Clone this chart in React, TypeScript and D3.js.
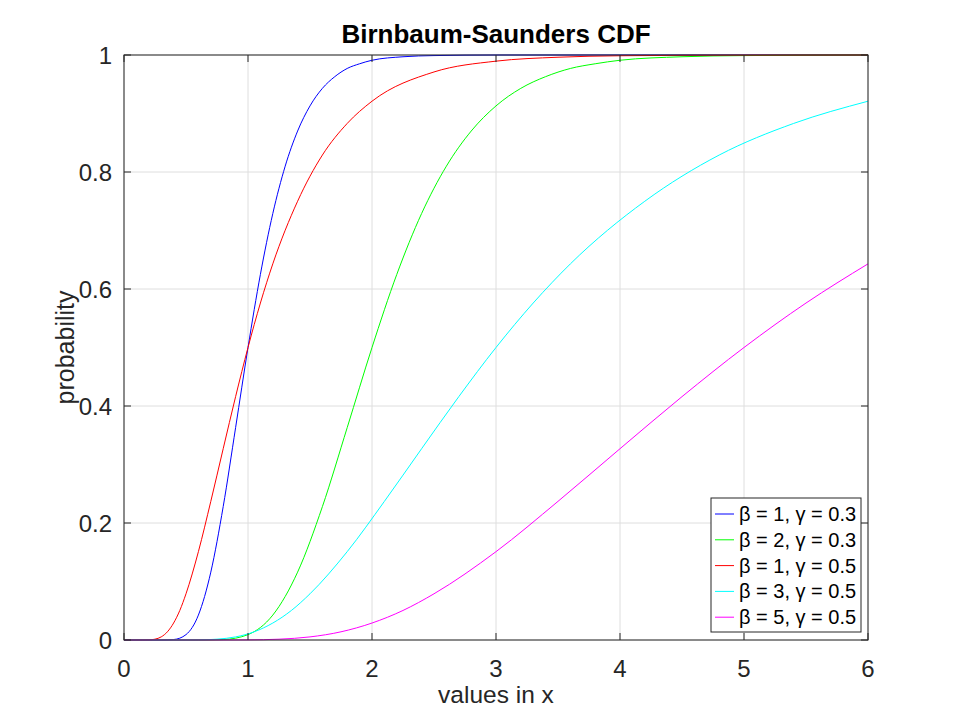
import React, { useEffect, useRef } from 'react';
import * as d3 from 'd3';

// values (x, probability)
const bs1g03: [number, number][] = [
  [0, 0], [0.3, 0], [0.4, 0.0008], [0.5, 0.0092], [0.6, 0.0426], [0.7, 0.116], [0.8, 0.228],
  [0.9, 0.363], [1, 0.5], [1.1, 0.625], [1.2, 0.729], [1.3, 0.81], [1.4, 0.87], [1.5, 0.913],
  [1.6, 0.943], [1.7, 0.963], [1.8, 0.977], [1.9, 0.985], [2, 0.991], [2.25, 0.997],
  [2.5, 0.999], [3, 1], [6, 1]
];
const bs2g03: [number, number][] = [
  [0, 0], [0.6, 0], [0.8, 0.0008], [1, 0.0092], [1.2, 0.0426], [1.4, 0.116], [1.6, 0.228],
  [1.8, 0.363], [2, 0.5], [2.2, 0.625], [2.4, 0.729], [2.6, 0.81], [2.8, 0.87], [3, 0.913],
  [3.2, 0.943], [3.4, 0.963], [3.6, 0.977], [3.8, 0.985], [4, 0.991], [4.5, 0.997],
  [5, 0.999], [6, 1]
];
const bs1g05: [number, number][] = [
  [0, 0], [0.15, 0], [0.2, 0.0002], [0.25, 0.0014], [0.3, 0.0053], [0.35, 0.014], [0.4, 0.029],
  [0.45, 0.0505], [0.5, 0.079], [0.6, 0.151], [0.7, 0.237], [0.8, 0.327], [0.9, 0.416],
  [1, 0.5], [1.1, 0.576], [1.2, 0.643], [1.4, 0.75], [1.6, 0.829], [1.8, 0.883], [2, 0.921],
  [2.5, 0.971], [3, 0.9895], [3.5, 0.9962], [4, 0.9987], [5, 0.9998], [6, 1]
];
const bs3g05: [number, number][] = [
  [0, 0], [0.45, 0], [0.6, 0.0002], [0.75, 0.0014], [0.9, 0.0053], [1.05, 0.014], [1.2, 0.029],
  [1.35, 0.0505], [1.5, 0.079], [1.8, 0.151], [2.1, 0.237], [2.4, 0.327], [2.7, 0.416],
  [3, 0.5], [3.3, 0.576], [3.6, 0.643], [4.2, 0.75], [4.8, 0.829], [5.4, 0.883], [6, 0.921]
];
const bs5g05: [number, number][] = [
  [0, 0], [0.75, 0], [1, 0.0002], [1.25, 0.0014], [1.5, 0.0053], [1.75, 0.014], [2, 0.029],
  [2.25, 0.0505], [2.5, 0.079], [3, 0.151], [3.5, 0.237], [4, 0.327], [4.5, 0.416],
  [5, 0.5], [5.5, 0.576], [6, 0.643]
];

const seriesData = [bs1g03, bs2g03, bs1g05, bs3g05, bs5g05];
const seriesLabels = ['β = 1, γ = 0.3', 'β = 2, γ = 0.3', 'β = 1, γ = 0.5', 'β = 3, γ = 0.5', 'β = 5, γ = 0.5'];
const seriesColors = ['#0000ff', '#00ff00', '#ff0000', '#00ffff', '#ff00ff'];
const xTicks = [0, 1, 2, 3, 4, 5, 6];
const yTicks = [0, 0.2, 0.4, 0.6, 0.8, 1];

const App: React.FC = () => {
  const svgRef = useRef<SVGSVGElement>(null);
  const width = 960;
  const height = 720;

  useEffect(() => {
    if (!svgRef.current) return;
    const svg = d3.select(svgRef.current);
    svg.selectAll('*').remove();

    const margin = { top: 55, right: 92, bottom: 80, left: 124 };
    const innerWidth = width - margin.left - margin.right;
    const innerHeight = height - margin.top - margin.bottom;
    const font = '"Liberation Sans", Arial, sans-serif';
    const ink = '#262626';

    const x = d3.scaleLinear().domain([0, 6]).range([0, innerWidth]);
    const y = d3.scaleLinear().domain([0, 1]).range([innerHeight, 0]);

    svg.append('rect').attr('width', width).attr('height', height).attr('fill', '#fff');

    const g = svg.append('g').attr('transform', `translate(${margin.left},${margin.top})`);

    // grid
    g.selectAll('.gx').data(xTicks).enter().append('line')
      .attr('x1', d => x(d)).attr('x2', d => x(d))
      .attr('y1', 0).attr('y2', innerHeight)
      .attr('stroke', '#dedede').attr('stroke-width', 1);
    g.selectAll('.gy').data(yTicks).enter().append('line')
      .attr('x1', 0).attr('x2', innerWidth)
      .attr('y1', d => y(d)).attr('y2', d => y(d))
      .attr('stroke', '#dedede').attr('stroke-width', 1);

    // curves
    const line = d3.line<[number, number]>()
      .x(d => x(d[0]))
      .y(d => y(d[1]))
      .curve(d3.curveMonotoneX);

    seriesData.forEach((s, i) => {
      g.append('path')
        .attr('d', line(s) as string)
        .attr('fill', 'none')
        .attr('stroke', seriesColors[i])
        .attr('stroke-width', 1);
    });

    // box
    g.append('rect')
      .attr('width', innerWidth).attr('height', innerHeight)
      .attr('fill', 'none').attr('stroke', ink).attr('stroke-width', 1);

    // inward ticks on all sides
    const tl = 7;
    xTicks.forEach(t => {
      g.append('line').attr('x1', x(t)).attr('x2', x(t)).attr('y1', innerHeight).attr('y2', innerHeight - tl).attr('stroke', ink);
      g.append('line').attr('x1', x(t)).attr('x2', x(t)).attr('y1', 0).attr('y2', tl).attr('stroke', ink);
    });
    yTicks.forEach(t => {
      g.append('line').attr('x1', 0).attr('x2', tl).attr('y1', y(t)).attr('y2', y(t)).attr('stroke', ink);
      g.append('line').attr('x1', innerWidth).attr('x2', innerWidth - tl).attr('y1', y(t)).attr('y2', y(t)).attr('stroke', ink);
    });

    // tick labels
    g.selectAll('.xl').data(xTicks).enter().append('text')
      .attr('x', d => x(d)).attr('y', innerHeight + 37)
      .attr('text-anchor', 'middle')
      .attr('font-family', font).attr('font-size', 24).attr('fill', ink)
      .text(d => d3.format('')(d));
    g.selectAll('.yl').data(yTicks).enter().append('text')
      .attr('x', -12).attr('y', d => y(d) + 8.5)
      .attr('text-anchor', 'end')
      .attr('font-family', font).attr('font-size', 24).attr('fill', ink)
      .text(d => d3.format('')(d));

    // axis labels
    g.append('text')
      .attr('x', innerWidth / 2).attr('y', innerHeight + 63)
      .attr('text-anchor', 'middle')
      .attr('font-family', font).attr('font-size', 24.5).attr('fill', ink)
      .text('values in x');
    g.append('text')
      .attr('transform', 'rotate(-90)')
      .attr('x', -innerHeight / 2).attr('y', -50)
      .attr('text-anchor', 'middle')
      .attr('font-family', font).attr('font-size', 25).attr('fill', ink)
      .text('probability');

    // title
    svg.append('text')
      .attr('x', margin.left + innerWidth / 2).attr('y', 43)
      .attr('text-anchor', 'middle')
      .attr('font-family', font).attr('font-size', 26).attr('font-weight', 'bold').attr('fill', '#000')
      .text('Birnbaum-Saunders CDF');

    // legend
    const legend = svg.append('g').attr('transform', 'translate(711,498)');
    legend.append('rect')
      .attr('width', 150).attr('height', 134)
      .attr('fill', '#fff').attr('stroke', ink).attr('stroke-width', 1);
    seriesLabels.forEach((lab, i) => {
      const cy = 16 + i * 25.8;
      legend.append('line')
        .attr('x1', 4).attr('x2', 23).attr('y1', cy).attr('y2', cy)
        .attr('stroke', seriesColors[i]).attr('stroke-width', 1);
      legend.append('text')
        .attr('x', 28).attr('y', cy + 7)
        .attr('font-family', font).attr('font-size', 20).attr('fill', '#000')
        .text(lab);
    });
  }, []);

  return (
    <svg
      ref={svgRef}
      width={width}
      height={height}
      style={{ position: 'absolute', left: 0, top: 0 }}
    />
  );
};

export default App;
